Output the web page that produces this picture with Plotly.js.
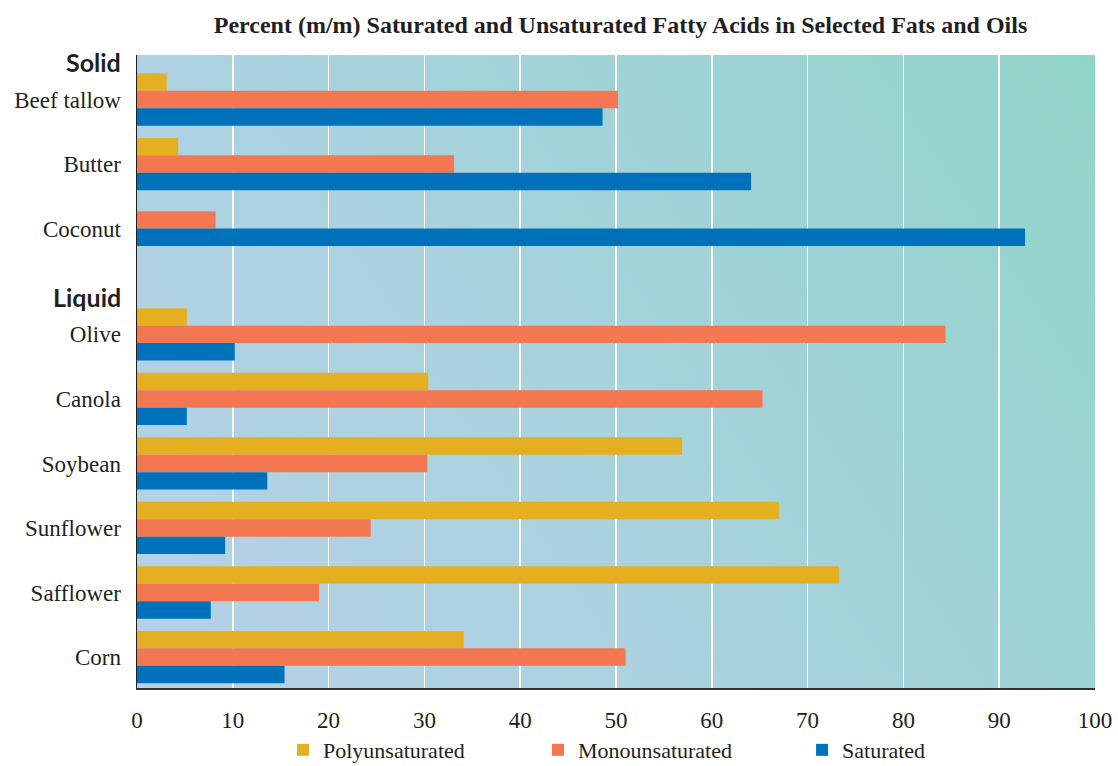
<!DOCTYPE html>
<html>
<head>
<meta charset="utf-8">
<script src="https://cdn.plot.ly/plotly-3.0.1.min.js"></script>
<style>
  html, body { margin: 0; padding: 0; background: #fff; }
  #chart { width: 1118px; height: 766px; }
</style>
</head>
<body>
<div id="chart"></div>
<script>
// ---- data ----
const categories = ['Beef tallow', 'Butter', 'Coconut', 'Olive', 'Canola', 'Soybean', 'Sunflower', 'Safflower', 'Corn'];
const groups = ['Solid', 'Solid', 'Solid', 'Liquid', 'Liquid', 'Liquid', 'Liquid', 'Liquid', 'Liquid'];
const seriesNames = ['Polyunsaturated', 'Monounsaturated', 'Saturated'];
const polyunsaturated = [3.1, 4.3, null, 5.2, 30.4, 56.9, 67.0, 73.3, 34.1];
const monounsaturated = [50.2, 33.1, 8.2, 84.4, 65.3, 30.3, 24.4, 19.0, 51.0];
const saturated = [48.6, 64.1, 92.7, 10.2, 5.2, 13.6, 9.2, 7.7, 15.4];
const xTicks = [0, 10, 20, 30, 40, 50, 60, 70, 80, 90, 100];

// ---- style ----
const colors = ['#E4B021', '#F37852', '#0072BC'];
const GROUP_GAP = 0.64;   // extra space between Solid and Liquid blocks
const BAR_W = 0.27;
const serif = 'Liberation Serif, Times New Roman, serif';
const legendX = [0.1524, 0.4186, 0.6942];

// group centre positions (category index + gap)
const pos = [];
let p = 0;
categories.forEach((c, i) => {
  if (i > 0 && groups[i] !== groups[i - 1]) p += GROUP_GAP;
  pos.push(p);
  p += 1;
});

const allSeries = [polyunsaturated, monounsaturated, saturated];
const yPos = allSeries.map(() => []);
categories.forEach((c, i) => {
  const present = allSeries.map((s, k) => s[i] !== null ? k : -1).filter(k => k >= 0);
  const n = present.length;
  allSeries.forEach((s, k) => {
    const slot = present.indexOf(k);
    yPos[k].push(slot >= 0 ? pos[i] + (slot - (n - 1) / 2) * BAR_W : null);
  });
});

const legendIds = ['legend', 'legend2', 'legend3'];
const traces = allSeries.map((s, k) => ({
  type: 'bar',
  orientation: 'h',
  name: seriesNames[k],
  x: s,
  y: yPos[k],
  width: BAR_W,
  legend: legendIds[k],
  marker: { color: colors[k], line: { width: 0 } },
  hoverinfo: 'x+name'
}));

// gradient background for plot area
const W = 958, H = 633;
const cv = document.createElement('canvas');
cv.width = W; cv.height = H;
const ctx = cv.getContext('2d');
const grad = ctx.createLinearGradient(0, H, W, 0);
grad.addColorStop(0, '#b7d1e8');
grad.addColorStop(0.5, '#a6d3dc');
grad.addColorStop(1, '#90d4c9');
ctx.fillStyle = grad;
ctx.fillRect(0, 0, W, H);
const bgURL = cv.toDataURL('image/png');

const firstOf = g => pos[groups.indexOf(g)];
const headerOffset = 0.58;
const headers = [...new Set(groups)];

const layout = {
  width: 1118,
  height: 766,
  margin: { l: 137, r: 23, t: 55, b: 78, autoexpand: false },
  paper_bgcolor: '#ffffff',
  plot_bgcolor: 'rgba(0,0,0,0)',
  barmode: 'overlay',
  title: {
    text: '<b>Percent (m/m) Saturated and Unsaturated Fatty Acids in Selected Fats and Oils</b>',
    font: { family: serif, size: 24, color: '#231f20' },
    x: 0.555, xanchor: 'center',
    y: 0.968, yanchor: 'middle'
  },
  xaxis: {
    range: [0, 100],
    tickvals: xTicks,
    ticktext: xTicks.map(String),
    showgrid: true,
    gridcolor: '#ffffff',
    gridwidth: 1.5,
    zeroline: false,
    showline: true,
    linecolor: '#333333',
    linewidth: 1.5,
    ticks: '',
    ticklabelstandoff: 11,
    tickfont: { family: serif, size: 23, color: '#231f20' },
    fixedrange: true
  },
  yaxis: {
    range: [pos[pos.length - 1] + 0.48, -0.69],
    tickvals: pos,
    ticktext: categories,
    showgrid: false,
    zeroline: false,
    showline: true,
    linecolor: '#231f20',
    linewidth: 1.5,
    ticks: '',
    ticklabelstandoff: 10,
    tickfont: { family: serif, size: 23, color: '#231f20' },
    fixedrange: true
  },
  showlegend: true,
  images: [{
    source: bgURL,
    xref: 'x domain', yref: 'y domain',
    x: 0, y: 1, sizex: 1, sizey: 1,
    xanchor: 'left', yanchor: 'top',
    sizing: 'stretch', layer: 'below'
  }],
  annotations: headers.map(h => ({
    text: '<b>' + h + '</b>',
    xref: 'paper', yref: 'y',
    x: -0.015, xanchor: 'right',
    y: firstOf(h) - headerOffset, yanchor: 'middle',
    showarrow: false,
    font: { family: 'Lato, Noto Sans, sans-serif', size: 25, color: '#231f20' }
  }))
};

legendIds.forEach((id, k) => {
  layout[id] = {
    orientation: 'h',
    x: legendX[k], xanchor: 'left',
    y: -0.098, yanchor: 'middle',
    font: { family: serif, size: 22, color: '#231f20' },
    bgcolor: 'rgba(0,0,0,0)'
  };
});

Plotly.newPlot('chart', traces, layout, { displayModeBar: false, staticPlot: true });
</script>
</body>
</html>
